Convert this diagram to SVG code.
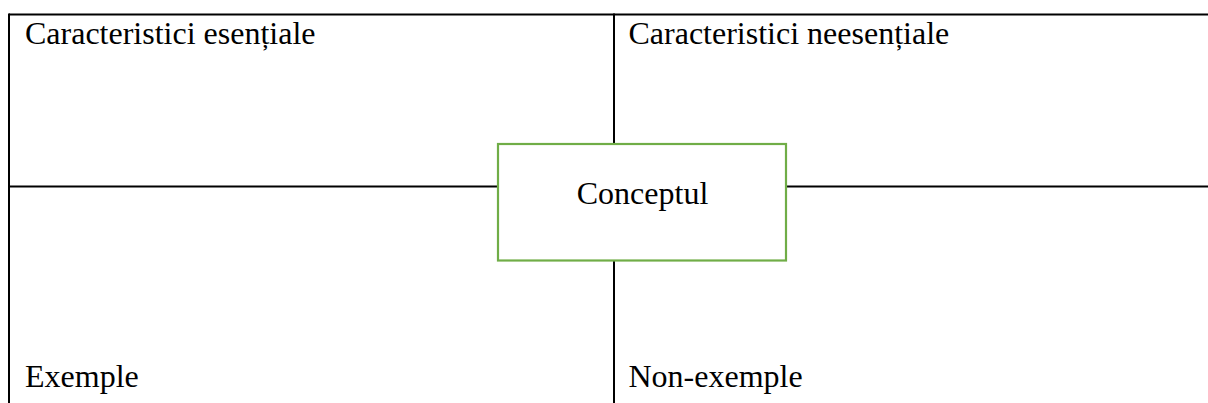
<svg xmlns="http://www.w3.org/2000/svg" width="1208" height="403" viewBox="0 0 1208 403">
<style>
.ln{stroke:#000;stroke-width:2;fill:none}
.t{font-family:"Liberation Serif","Times New Roman",serif;font-size:32px;fill:#000}
.box{fill:#fff;stroke:#70AD47;stroke-width:2.2}
</style>
<rect width="1208" height="403" fill="#fff"/>
<g id="connectors">
<line class="ln" x1="9" y1="14.5" x2="1208" y2="14.5"/>
<line class="ln" x1="9" y1="13.5" x2="9" y2="403"/>
<line class="ln" x1="614" y1="13.5" x2="614" y2="403"/>
<line class="ln" x1="8" y1="186.5" x2="1208" y2="186.5"/>
</g>
<g id="q1"><text class="t" x="25" y="43.5">Caracteristici esențiale</text></g>
<g id="q2"><text class="t" x="628.5" y="43.5">Caracteristici neesențiale</text></g>
<g id="q3"><text class="t" x="25" y="386.5">Exemple</text></g>
<g id="q4"><text class="t" x="628.5" y="386.5">Non-exemple</text></g>
<g id="concept">
<rect class="box" x="498" y="144" width="288" height="116.5"/>
<text class="t" x="642.5" y="203.5" text-anchor="middle">Conceptul</text>
</g>
</svg>
